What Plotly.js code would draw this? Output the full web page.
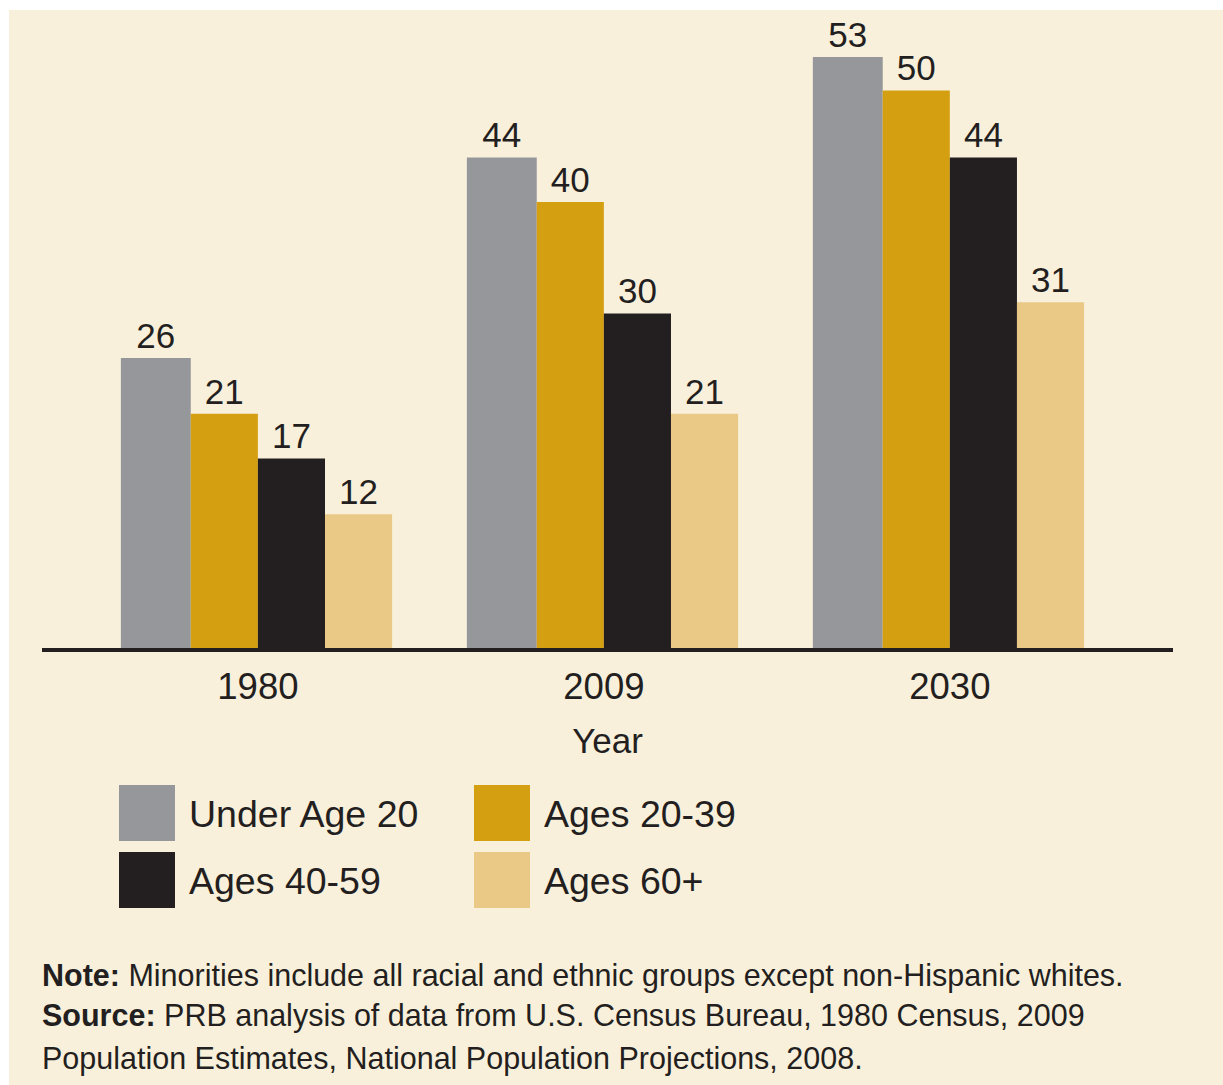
<!DOCTYPE html>
<html>
<head>
<meta charset="utf-8">
<script src="https://cdn.plot.ly/plotly-3.0.1.min.js"></script>
<style>
  html, body { margin: 0; padding: 0; background: #ffffff; }
  #chart { position: absolute; left: 9px; top: 10px; width: 1214px; height: 1075px; }
</style>
</head>
<body>
<div id="chart"></div>
<script>
// ---- data ----
const years = ['1980', '2009', '2030'];
const seriesNames = ['Under Age 20', 'Ages 20-39', 'Ages 40-59', 'Ages 60+'];
const under20 = [26, 44, 53];
const ages20to39 = [21, 40, 50];
const ages40to59 = [17, 30, 44];
const ages60plus = [12, 21, 31];
const seriesColors = ['#96979b', '#d4a012', '#231f20', '#eac886'];
const noteLines = [
  '<b>Note:</b> Minorities include all racial and ethnic groups except non-Hispanic whites.',
  '<b>Source:</b> PRB analysis of data from U.S. Census Bureau, 1980 Census, 2009',
  'Population Estimates, National Population Projections, 2008.'
];

// ---- layout geometry (pixels within the div) ----
const W = 1214, H = 1075;
const M = { l: 33, r: 50, t: 10, b: 437 };
const plotW = W - M.l - M.r, plotH = H - M.t - M.b;
const OX = 9, OY = 10; // div offset on page
const px = X => (X - OX - M.l) / plotW;          // page x -> paper x
const py = Y => (H - M.b + OY - Y) / plotH;      // page y -> paper y

const FONT = 'Liberation Sans, Arial, Helvetica, sans-serif';
const INK = '#231f20';

const allValues = [under20, ages20to39, ages40to59, ages60plus];
const offsets = [-0.396, -0.194, 0.0, 0.194];
const widths = [0.202, 0.194, 0.194, 0.194];

const traces = allValues.map((vals, i) => ({
  type: 'bar',
  name: seriesNames[i],
  x: years,
  y: vals,
  offset: offsets[i],
  width: widths[i],
  marker: { color: seriesColors[i], line: { width: 0 } },
  text: vals.map(String),
  textposition: 'outside',
  constraintext: 'none',
  cliponaxis: false,
  textfont: { family: FONT, size: 35, color: INK },
  hoverinfo: 'skip'
}));

// legend drawn as shapes + annotations
const legendPos = [
  { x0: 119, y0: 785, tx: 187 },
  { x0: 474, y0: 785, tx: 542 },
  { x0: 119, y0: 852, tx: 187 },
  { x0: 474, y0: 852, tx: 542 }
];
const shapes = legendPos.map((p, i) => ({
  type: 'rect', xref: 'paper', yref: 'paper',
  x0: px(p.x0), x1: px(p.x0 + 56), y0: py(p.y0 + 56), y1: py(p.y0),
  fillcolor: seriesColors[i], line: { width: 0 }
}));
const annotations = legendPos.map((p, i) => ({
  xref: 'paper', yref: 'paper', x: px(p.tx), y: py(p.y0 + 29),
  xanchor: 'left', yanchor: 'middle', showarrow: false,
  text: seriesNames[i], font: { family: FONT, size: 37.5, color: INK }
}));
const noteY = [975, 1016, 1058];
noteLines.forEach((t, i) => annotations.push({
  xref: 'paper', yref: 'paper', x: px(40), y: py(noteY[i]),
  xanchor: 'left', yanchor: 'middle', showarrow: false, align: 'left',
  text: t, font: { family: FONT, size: 30.5, color: INK }
}));

const layout = {
  width: W, height: H,
  margin: M,
  paper_bgcolor: '#f9f0dc',
  plot_bgcolor: '#f9f0dc',
  barmode: 'overlay',
  showlegend: false,
  font: { family: FONT, color: INK },
  xaxis: {
    type: 'category',
    range: [-0.624, 2.645],
    showline: true, linewidth: 4, linecolor: INK,
    showgrid: false, zeroline: false,
    ticks: '', ticklabelstandoff: 3,
    tickfont: { family: FONT, size: 36.5, color: INK },
    title: { text: 'Year', font: { family: FONT, size: 35, color: INK }, standoff: 24 }
  },
  yaxis: {
    range: [0, 56.32],
    visible: false, showgrid: false, zeroline: false
  },
  shapes: shapes,
  annotations: annotations
};

Plotly.newPlot('chart', traces, layout, { displayModeBar: false, staticPlot: true });
</script>
</body>
</html>
